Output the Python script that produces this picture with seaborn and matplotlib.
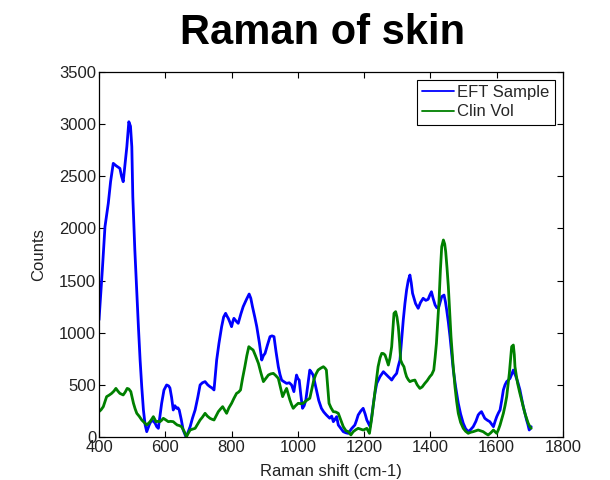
import numpy as np
import pandas as pd
import matplotlib
matplotlib.use("Agg")
import matplotlib.pyplot as plt
import seaborn as sns

# EFT Sample spectrum (Raman shift in cm-1, counts)
eft_shift = [400, 410, 418, 428, 435, 443, 452, 463, 468, 473, 478, 484, 490, 495, 499, 502, 508, 514,
             519, 524, 529, 534, 539, 544, 552, 559, 564, 569, 574, 579, 584, 589, 596, 604, 610, 614,
             619, 624, 629, 634, 638, 642, 648, 654, 662, 668, 675, 682, 690, 698, 705, 712, 720, 728,
             735, 741, 747, 751, 755, 762, 770, 776, 782, 786, 790, 795, 800, 804, 807, 814, 820, 828,
             835, 845, 853, 858, 863, 870, 876, 884, 891, 896, 901, 908, 916, 922, 928, 934, 941, 946,
             951, 958, 966, 974, 981, 988, 992, 996, 1000, 1004, 1009, 1014, 1019, 1024, 1030, 1036,
             1041, 1046, 1051, 1056, 1063, 1071, 1078, 1086, 1096, 1102, 1107, 1112, 1117, 1122, 1130,
             1137, 1145, 1152, 1162, 1172, 1177, 1182, 1190, 1197, 1203, 1208, 1213, 1218, 1223, 1228,
             1233, 1238, 1248, 1258, 1266, 1273, 1279, 1283, 1290, 1298, 1303, 1308, 1313, 1318, 1323,
             1328, 1333, 1338, 1342, 1346, 1355, 1363, 1370, 1378, 1386, 1393, 1398, 1403, 1408, 1414,
             1419, 1424, 1429, 1434, 1441, 1445, 1449, 1454, 1459, 1464, 1469, 1476, 1484, 1491, 1499,
             1506, 1514, 1521, 1529, 1537, 1544, 1549, 1554, 1559, 1564, 1572, 1579, 1585, 1590, 1595,
             1600, 1605, 1610, 1615, 1620, 1625, 1630, 1635, 1640, 1645, 1650, 1654, 1658, 1664, 1670,
             1675, 1680, 1685, 1690, 1694, 1698, 1701, 1704]
eft_counts = [1122, 1600, 2016, 2240, 2450, 2624, 2600, 2576, 2500, 2448, 2600, 2783, 3023, 2980, 2783,
              2304, 1800, 1380, 1050, 738, 480, 259, 120, 51, 120, 163, 150, 134, 100, 83, 200, 323, 450,
              499, 490, 470, 380, 259, 300, 275, 280, 259, 170, 67, 3, 40, 99, 180, 259, 380, 499, 520,
              531, 500, 482, 470, 451, 600, 738, 900, 1058, 1150, 1186, 1160, 1138, 1100, 1058, 1110,
              1138, 1110, 1090, 1180, 1250, 1320, 1371, 1330, 1250, 1150, 1058, 900, 738, 780, 802, 880,
              962, 970, 962, 820, 674, 600, 546, 530, 514, 520, 499, 435, 520, 594, 560, 546, 400, 275,
              300, 355, 500, 642, 620, 594, 520, 451, 350, 275, 240, 211, 180, 200, 147, 170, 195, 115,
              80, 51, 40, 35, 80, 115, 160, 211, 250, 275, 220, 163, 130, 99, 200, 323, 430, 514, 580,
              626, 600, 578, 560, 546, 580, 610, 680, 738, 930, 1122, 1280, 1409, 1500, 1553, 1480, 1378,
              1280, 1234, 1290, 1330, 1310, 1320, 1360, 1393, 1330, 1266, 1240, 1234, 1290, 1346, 1361,
              1300, 1218, 1100, 962, 800, 642, 480, 323, 220, 131, 80, 51, 70, 99, 150, 211, 230, 243,
              210, 179, 160, 147, 120, 99, 150, 195, 230, 259, 350, 451, 500, 531, 545, 562, 600, 642,
              610, 578, 520, 451, 370, 291, 230, 163, 120, 67, 80, 99]

# Clin Vol spectrum (Raman shift in cm-1, counts)
clin_shift = [400, 406, 413, 418, 423, 430, 438, 445, 451, 457, 463, 468, 473, 479, 485, 490, 496, 500,
              504, 509, 514, 521, 529, 536, 544, 549, 554, 559, 564, 568, 572, 578, 584, 589, 594, 601,
              609, 616, 624, 630, 636, 642, 649, 656, 664, 670, 675, 682, 690, 697, 705, 712, 720, 727,
              735, 741, 747, 753, 760, 767, 773, 779, 785, 792, 800, 807, 815, 821, 827, 833, 840, 846,
              852, 858, 865, 872, 881, 888, 896, 903, 911, 918, 926, 933, 941, 947, 954, 960, 966, 971,
              976, 981, 986, 993, 1001, 1008, 1016, 1026, 1036, 1042, 1048, 1054, 1061, 1069, 1077,
              1082, 1086, 1090, 1094, 1100, 1107, 1114, 1122, 1130, 1137, 1145, 1152, 1160, 1167, 1175,
              1182, 1190, 1197, 1203, 1208, 1212, 1216, 1222, 1227, 1232, 1237, 1242, 1248, 1253, 1258,
              1263, 1268, 1273, 1278, 1283, 1287, 1290, 1295, 1299, 1303, 1307, 1310, 1315, 1320, 1324,
              1328, 1333, 1338, 1345, 1353, 1360, 1368, 1375, 1383, 1390, 1398, 1404, 1410, 1414, 1418,
              1422, 1426, 1430, 1434, 1439, 1443, 1446, 1450, 1454, 1458, 1462, 1468, 1474, 1479, 1484,
              1491, 1499, 1506, 1514, 1521, 1529, 1537, 1544, 1551, 1559, 1566, 1574, 1582, 1590, 1595,
              1600, 1605, 1610, 1615, 1620, 1625, 1630, 1634, 1638, 1642, 1645, 1650, 1653, 1655, 1659,
              1663, 1669, 1675, 1680, 1685, 1690, 1695, 1700, 1704]
clin_counts = [243, 260, 291, 340, 387, 400, 418, 440, 466, 440, 418, 410, 403, 430, 466, 460, 435, 380,
               323, 270, 227, 200, 163, 140, 115, 130, 147, 170, 195, 170, 147, 150, 147, 160, 179, 165,
               147, 150, 147, 130, 115, 110, 99, 60, 3, 40, 67, 75, 83, 120, 163, 190, 227, 200, 179, 170,
               163, 200, 243, 270, 291, 260, 227, 280, 323, 370, 418, 430, 451, 560, 674, 780, 866, 850,
               834, 780, 706, 620, 531, 560, 594, 605, 610, 590, 562, 480, 387, 430, 466, 410, 355, 310,
               275, 300, 323, 320, 323, 350, 371, 460, 546, 600, 642, 660, 674, 660, 642, 480, 323, 280,
               243, 240, 227, 160, 99, 60, 51, 20, 51, 70, 83, 75, 67, 75, 83, 60, 35, 163, 290, 418, 550,
               674, 760, 802, 800, 786, 740, 690, 760, 866, 1050, 1186, 1202, 1150, 1058, 900, 738, 700,
               674, 620, 578, 550, 531, 540, 546, 500, 466, 480, 514, 540, 578, 600, 642, 760, 898, 1100,
               1314, 1600, 1825, 1889, 1850, 1777, 1620, 1441, 1200, 962, 700, 482, 340, 227, 140, 83, 55,
               35, 45, 51, 60, 67, 60, 51, 35, 19, 40, 67, 50, 35, 70, 115, 170, 227, 300, 387, 500, 610,
               750, 866, 882, 790, 674, 590, 514, 430, 355, 290, 227, 180, 131, 100, 83]

series_names = ["EFT Sample", "Clin Vol"]
series_colors = ["#0000ff", "#008000"]
x_ticks = [400, 600, 800, 1000, 1200, 1400, 1600, 1800]
y_ticks = [0, 500, 1000, 1500, 2000, 2500, 3000, 3500]

df = pd.concat([
    pd.DataFrame({"shift": eft_shift, "counts": eft_counts, "series": series_names[0]}),
    pd.DataFrame({"shift": clin_shift, "counts": clin_counts, "series": series_names[1]}),
], ignore_index=True)

sns.set_style("ticks")
plt.rcParams["font.family"] = ["Liberation Sans", "DejaVu Sans"]

fig = plt.figure(figsize=(6.1, 4.8), dpi=100)
ax = fig.add_axes([0.1623, 0.0896, 0.7607, 0.7604])

sns.lineplot(data=df, x="shift", y="counts", hue="series", hue_order=series_names,
             palette=dict(zip(series_names, series_colors)), estimator=None, sort=False,
             linewidth=2.0, ax=ax)

ax.set_xlim(400, 1800)
ax.set_ylim(0, 3500)
ax.set_xticks(x_ticks)
ax.set_yticks(y_ticks)
ax.tick_params(direction="in", length=4, width=0.8, top=True, right=True,
               labelsize=12, colors="black", labelcolor="#222222", pad=2)
for sp in ax.spines.values():
    sp.set_visible(True)
    sp.set_linewidth(0.9)
    sp.set_color("black")

ax.set_xlabel("Raman shift (cm-1)", fontsize=12, color="#222222", labelpad=7)
ax.set_ylabel("Counts", fontsize=12, color="#222222", labelpad=9)

fig.text(0.528, 0.932, "Raman of skin", ha="center", va="center",
         fontsize=30, fontweight="bold", color="black")

leg = ax.legend(loc="upper right", fontsize=12, frameon=True, fancybox=False,
                handlelength=1.9, handletextpad=0.2, borderpad=0.3, labelspacing=0.25,
                borderaxespad=0.5)
leg.get_frame().set_edgecolor("black")
leg.get_frame().set_linewidth(0.8)
leg.get_frame().set_alpha(1)
leg.set_title(None)
for line in leg.get_lines():
    line.set_linewidth(1.3)

fig.savefig("out.png", dpi=100)
